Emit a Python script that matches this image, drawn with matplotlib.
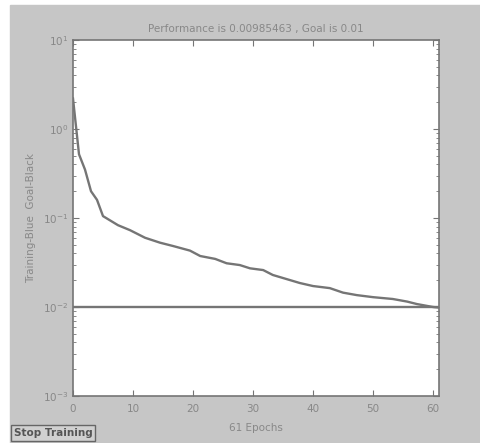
import matplotlib
matplotlib.use("Agg")
import matplotlib.pyplot as plt
import numpy as np

# values
epochs = [0, 1, 2, 3, 4, 5, 7.5, 9.5, 12, 14.5, 16.7, 19.5, 21.2, 23.7, 25.6,
          27.8, 29.5, 31.7, 33.3, 37.8, 40, 42.8, 45, 47.3, 50, 53.3, 55.7,
          57.3, 60, 61]
perf = [2.2, 0.52, 0.35, 0.2, 0.16, 0.105, 0.083, 0.073, 0.06, 0.0528, 0.0484,
        0.043, 0.0374, 0.0347, 0.031, 0.0296, 0.0272, 0.026, 0.0229, 0.0186,
        0.0172, 0.0163, 0.0145, 0.0136, 0.0129, 0.0123, 0.0115, 0.0108,
        0.0100, 0.00985]
goal = 0.01
n_epochs = 61
xticks = [0, 10, 20, 30, 40, 50, 60]

bg = "#c6c6c6"
ink = "#757575"
txt = "#888888"

fig = plt.figure(figsize=(4.8, 4.43), dpi=100, facecolor="white")
fig.patches.append(plt.Rectangle((10/480, 0), 470/480, 438/443,
                                 transform=fig.transFigure, color=bg, zorder=-5))

ax = fig.add_axes([73/480, 1 - 396/443, 366/480, 356/443])
ax.set_facecolor("white")
ax.plot(epochs, perf, color=ink, lw=1.7)
ax.plot([0, n_epochs], [goal, goal], color=ink, lw=1.7)

ax.set_yscale("log")
ax.set_ylim(1e-3, 1e1)
ax.set_xlim(0, n_epochs)
ax.set_xticks(xticks)
ax.tick_params(which="both", direction="in", top=True, right=True,
               colors=ink, labelcolor=txt, labelsize=7.5)
ax.tick_params(axis="x", pad=6)
ax.tick_params(which="major", length=4)
ax.tick_params(which="minor", length=2)
for s in ax.spines.values():
    s.set_color(ink)
    s.set_linewidth(1.2)

ax.set_title("Performance is 0.00985463 , Goal is 0.01", fontsize=7.5,
             color=txt, pad=6)
ax.set_xlabel("61 Epochs", fontsize=7.5, color=txt, labelpad=6)
ax.set_ylabel("Training-Blue  Goal-Black", fontsize=7.5, color=txt, labelpad=5)

fig.text(14/480, 1 - 433/443, "Stop Training", fontsize=7.5, color="#555555",
         fontweight="bold", va="center", ha="left",
         bbox=dict(boxstyle="square,pad=0.25", fc="#d0d0d0", ec="#666666", lw=1))

fig.savefig("out.png", dpi=100, facecolor=fig.get_facecolor())
